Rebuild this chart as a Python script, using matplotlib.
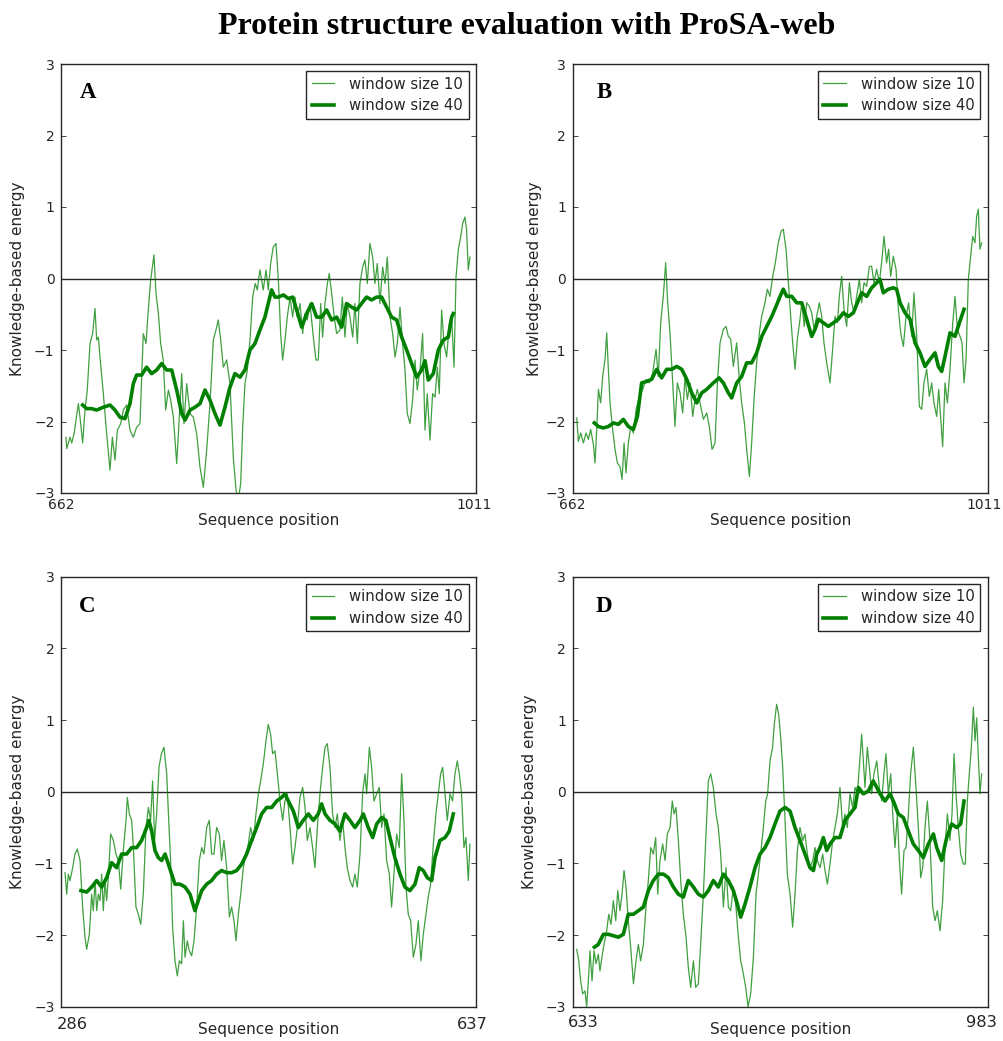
import matplotlib
matplotlib.use("Agg")
import matplotlib.pyplot as plt

# ---------------- data ----------------
title = "Protein structure evaluation with ProSA-web"
panel_letters = ["A", "B", "C", "D"]
seq_ranges = [(662, 1011), (662, 1011), (286, 637), (633, 983)]
legend_labels = ["window size 10", "window size 40"]
ytick_values = [-3, -2, -1, 0, 1, 2, 3]

a_w10_pos = [666.2, 666.8, 669.6, 671.0, 673.0, 674.6, 676.6, 678.0, 680.2, 682.2, 684.1, 686.4, 688.6, 690.6, 692.0, 693.4,
             694.8, 697.6, 700.4, 703.2, 705.2, 707.4, 709.4, 712.2, 714.4, 717.2, 720.0, 722.8, 725.6, 728.4, 731.2, 733.5,
             735.4, 737.4, 740.2, 741.9, 743.9, 745.8, 748.0, 750.0, 752.3, 754.2, 756.5, 759.3, 761.5, 763.5, 765.4, 767.7,
             770.5, 773.3, 776.1, 778.9, 781.7, 784.5, 787.3, 790.1, 792.3, 794.3, 796.3, 798.5, 801.3, 804.1, 806.9, 809.2,
             811.1, 813.1, 814.8, 816.7, 818.7, 820.9, 823.2, 825.4, 827.1, 829.3, 832.1, 834.4, 836.3, 838.3, 840.5, 842.8,
             844.8, 846.7, 848.4, 850.4, 852.3, 854.6, 856.8, 858.8, 860.7, 863.0, 865.2, 867.2, 869.1, 871.4, 874.2, 876.4,
             878.4, 880.4, 882.0, 884.0, 886.0, 887.6, 889.6, 891.8, 893.8, 896.6, 898.6, 900.8, 902.8, 905.0, 907.3, 909.2,
             911.2, 913.4, 915.7, 917.6, 919.6, 921.8, 924.1, 926.0, 928.0, 930.2, 932.5, 934.5, 936.4, 938.7, 940.9, 942.9,
             944.8, 947.1, 949.3, 951.3, 953.2, 955.5, 957.7, 959.7, 961.6, 963.9, 966.1, 968.1, 970.0, 972.3, 974.5, 976.5,
             978.5, 980.1, 982.1, 984.1, 986.3, 988.6, 990.5, 992.5, 994.2, 996.1, 998.1, 999.8, 1001.7, 1003.1, 1004.5, 1005.9]
a_w10_val = [-2.22, -2.38, -2.22, -2.30, -2.17, -1.98, -1.75, -1.94, -2.30, -1.84, -1.56, -0.91, -0.77, -0.42, -0.86, -0.82,
             -1.10, -1.61, -2.17, -2.68, -2.22, -2.54, -2.12, -2.03, -1.84, -1.77, -2.12, -2.22, -2.08, -2.03, -0.77, -0.91,
             -0.44, -0.02, 0.33, -0.21, -0.49, -0.91, -1.14, -1.84, -1.56, -1.70, -1.94, -2.59, -1.94, -1.33, -2.03, -1.47,
             -1.89, -1.94, -2.17, -2.64, -2.92, -2.40, -1.75, -0.86, -0.72, -0.58, -0.86, -1.24, -1.14, -1.47, -2.50, -2.96,
             -3.10, -2.87, -2.08, -1.47, -1.28, -0.86, -0.26, -0.07, -0.16, 0.12, -0.16, 0.12, -0.16, 0.21, 0.44, 0.49,
             -0.02, -0.77, -1.14, -0.86, -0.54, -0.26, -0.54, -0.26, -0.54, -0.35, -0.77, -0.49, -0.58, -0.35, -0.82, -1.14,
             -1.14, -0.35, -0.82, -0.35, -0.07, 0.07, -0.21, -0.54, -0.77, -0.72, -0.26, -0.82, -0.35, -0.54, -0.82, -0.35,
             -0.91, -0.07, 0.16, 0.26, -0.07, 0.49, 0.30, -0.07, 0.21, -0.35, 0.16, -0.07, 0.30, -0.54, -0.77, -1.10,
             -0.91, -0.40, -0.91, -1.28, -1.89, -2.03, -1.70, -1.14, -1.56, -1.28, -0.77, -2.12, -1.61, -2.26, -1.61, -1.66,
             -1.24, -1.61, -0.44, -0.91, -1.10, -0.63, -0.54, -1.24, 0.02, 0.40, 0.58, 0.77, 0.86, 0.68, 0.12, 0.30]

a_w40_pos = [680.2, 683.6, 687.8, 692.0, 697.6, 703.2, 707.4, 711.6, 715.8, 720.0, 722.8, 725.6, 729.8, 734.0, 738.2, 742.4,
             746.6, 750.9, 755.1, 759.3, 763.5, 766.3, 770.5, 774.7, 778.9, 783.1, 787.3, 791.5, 795.7, 799.9, 804.1, 808.3,
             812.5, 816.7, 820.9, 825.1, 829.3, 833.5, 836.3, 839.1, 841.9, 844.8, 849.0, 853.2, 856.8, 860.2, 864.4, 868.6,
             872.8, 877.0, 881.2, 885.4, 889.6, 893.8, 898.0, 902.2, 906.4, 910.6, 914.8, 919.0, 923.2, 927.4, 931.6, 935.8,
             940.0, 944.3, 948.5, 952.7, 956.9, 961.1, 965.3, 968.1, 970.9, 975.1, 979.3, 983.5, 987.7, 990.5, 991.9]
a_w40_val = [-1.77, -1.82, -1.82, -1.84, -1.80, -1.77, -1.84, -1.94, -1.96, -1.75, -1.47, -1.35, -1.35, -1.24, -1.33, -1.28,
             -1.19, -1.28, -1.28, -1.56, -1.89, -1.98, -1.84, -1.80, -1.75, -1.56, -1.70, -1.89, -2.05, -1.80, -1.52, -1.33,
             -1.38, -1.28, -1.00, -0.91, -0.72, -0.54, -0.35, -0.16, -0.26, -0.26, -0.23, -0.28, -0.26, -0.44, -0.68, -0.49,
             -0.35, -0.54, -0.54, -0.44, -0.58, -0.54, -0.68, -0.35, -0.40, -0.44, -0.35, -0.26, -0.30, -0.26, -0.26, -0.40,
             -0.54, -0.58, -0.82, -1.00, -1.19, -1.38, -1.28, -1.15, -1.42, -1.33, -1.00, -0.86, -0.82, -0.54, -0.49]

b_w10_pos = [665.4, 666.8, 668.7, 671.0, 673.2, 675.2, 677.1, 679.4, 680.8, 682.2, 683.6, 685.5, 687.2, 689.2, 690.6, 692.0,
             693.4, 695.6, 697.6, 699.6, 701.8, 703.5, 705.2, 706.8, 708.8, 710.8, 713.0, 715.3, 718.1, 720.9, 723.7, 726.5,
             729.3, 732.1, 734.0, 736.0, 738.2, 740.2, 741.9, 743.8, 746.1, 748.0, 750.0, 752.3, 754.5, 756.5, 758.4, 760.7,
             762.9, 764.9, 766.8, 769.1, 771.9, 774.7, 776.9, 779.2, 781.7, 783.7, 785.9, 788.7, 790.9, 792.9, 794.9, 797.1,
             799.9, 802.1, 804.1, 806.4, 808.3, 810.6, 812.5, 814.5, 816.7, 819.0, 820.9, 823.7, 825.7, 827.9, 830.2, 832.4,
             834.9, 837.2, 839.1, 841.4, 843.4, 845.3, 847.0, 849.0, 850.9, 852.8, 854.7, 856.7, 858.8, 861.0, 863.0, 865.0,
             867.2, 869.4, 871.4, 873.3, 875.6, 878.4, 880.6, 882.6, 884.6, 886.2, 888.2, 890.2, 892.4, 894.7, 896.6, 898.6,
             900.8, 903.1, 905.0, 907.0, 909.2, 911.5, 913.4, 915.4, 917.6, 919.9, 922.1, 923.8, 926.0, 927.7, 929.4, 931.6,
             933.9, 935.9, 937.8, 940.1, 942.3, 944.5, 947.1, 949.0, 951.3, 953.5, 955.5, 957.4, 959.7, 961.9, 963.9, 965.8,
             968.1, 969.8, 971.5, 973.1, 975.1, 977.1, 979.3, 981.6, 983.5, 985.5, 987.7, 989.4, 991.1, 992.8, 994.7, 996.7,
             998.4, 1000.3, 1001.7, 1003.1, 1004.5, 1005.9]
b_w10_val = [-1.95, -2.28, -2.16, -2.30, -2.16, -2.25, -2.11, -2.32, -2.58, -2.11, -1.55, -1.74, -1.37, -1.13, -0.76, -1.27,
             -1.74, -2.11, -2.39, -2.58, -2.63, -2.81, -2.30, -2.72, -2.30, -2.07, -2.16, -1.83, -1.65, -1.55, -1.41, -1.46,
             -1.32, -0.99, -1.37, -0.62, -0.25, 0.22, -0.34, -0.76, -1.46, -2.07, -1.46, -1.60, -1.88, -1.37, -1.69, -1.46,
             -1.93, -1.69, -1.55, -1.74, -1.97, -1.88, -2.07, -2.39, -2.30, -1.46, -0.90, -0.71, -0.67, -0.81, -0.85, -1.23,
             -0.90, -1.41, -1.74, -2.02, -2.39, -2.77, -2.30, -1.69, -1.18, -0.76, -0.53, -0.34, -0.15, -0.25, 0.03, 0.22,
             0.50, 0.66, 0.69, 0.41, -0.06, -0.53, -0.90, -1.27, -0.85, -0.62, -0.34, -0.67, -0.34, -0.39, -0.48, -0.71,
             -0.53, -0.34, -0.53, -0.90, -1.18, -1.46, -0.99, -0.53, -0.62, -0.25, 0.03, -0.43, -0.67, -0.06, -0.34, -0.48,
             -0.25, -0.01, -0.34, -0.06, -0.11, 0.17, 0.17, -0.06, 0.13, -0.06, 0.27, 0.59, 0.22, 0.41, 0.03, 0.31,
             0.13, -0.43, -0.76, -0.95, -0.53, -0.34, -0.81, -0.20, -0.81, -1.79, -1.83, -1.46, -1.27, -1.65, -1.46, -1.74,
             -1.93, -1.55, -1.97, -2.35, -1.46, -1.74, -1.27, -0.62, -0.25, -0.71, -0.81, -0.90, -1.46, -1.13, -0.01, 0.31,
             0.59, 0.50, 0.87, 0.97, 0.41, 0.50]

b_w40_pos = [680.2, 683.6, 687.8, 692.0, 696.2, 700.4, 704.6, 708.8, 713.0, 716.4, 720.0, 724.2, 728.4, 732.6, 736.8, 741.0,
             745.2, 749.5, 753.7, 757.9, 762.1, 766.3, 770.5, 774.7, 780.3, 785.1, 788.7, 792.9, 795.7, 799.9, 804.1, 808.3,
             812.5, 816.7, 821.0, 825.2, 829.4, 833.0, 836.4, 839.1, 842.0, 846.2, 850.4, 854.6, 858.8, 863.0, 865.8, 868.6,
             872.8, 877.0, 881.2, 885.4, 889.6, 893.8, 898.0, 901.4, 905.0, 909.2, 913.4, 917.6, 920.4, 923.2, 927.4, 931.6,
             934.4, 937.3, 941.5, 945.7, 949.9, 954.1, 958.3, 962.5, 966.7, 969.5, 972.3, 975.1, 979.3, 983.5, 987.2, 991.1]
b_w40_val = [-2.02, -2.07, -2.09, -2.07, -2.02, -2.04, -1.97, -2.07, -2.11, -1.93, -1.46, -1.44, -1.41, -1.27, -1.39, -1.27,
             -1.27, -1.23, -1.27, -1.41, -1.60, -1.74, -1.60, -1.55, -1.46, -1.39, -1.46, -1.60, -1.67, -1.46, -1.37, -1.18,
             -1.18, -1.04, -0.81, -0.67, -0.53, -0.39, -0.25, -0.15, -0.25, -0.25, -0.34, -0.34, -0.57, -0.81, -0.71, -0.57,
             -0.62, -0.67, -0.62, -0.57, -0.48, -0.53, -0.48, -0.34, -0.20, -0.25, -0.13, -0.06, -0.01, -0.20, -0.15, -0.13,
             -0.15, -0.34, -0.48, -0.57, -0.90, -1.04, -1.23, -1.13, -1.04, -1.23, -1.30, -1.09, -0.76, -0.81, -0.62, -0.43]

c_w10_pos = [289.4, 290.8, 292.2, 293.6, 295.9, 297.8, 299.8, 302.1, 304.3, 306.3, 307.7, 310.0, 311.9, 313.3, 314.8, 316.2,
             317.6, 319.0, 320.4, 321.8, 323.2, 324.6, 326.0, 328.0, 330.3, 332.5, 334.5, 336.5, 338.7, 341.0, 342.1, 343.8,
             345.8, 347.2, 349.4, 351.4, 353.4, 355.6, 357.9, 359.9, 361.8, 363.5, 365.2, 366.9, 368.9, 370.9, 373.1, 375.4,
             377.1, 378.7, 380.4, 382.4, 384.4, 386.1, 388.0, 389.5, 390.9, 392.8, 394.5, 396.5, 398.5, 400.7, 403.0, 405.0,
             406.9, 409.2, 411.4, 413.4, 415.4, 417.6, 419.9, 421.8, 423.8, 426.1, 428.4, 430.3, 432.3, 434.0, 436.0, 438.0,
             440.2, 442.5, 444.4, 446.4, 448.7, 450.9, 452.9, 454.9, 457.1, 459.4, 461.3, 463.3, 465.0, 467.0, 469.0, 471.2,
             473.5, 475.4, 477.4, 479.7, 481.9, 483.9, 485.9, 488.1, 490.4, 492.4, 494.3, 496.6, 498.8, 500.8, 502.8, 505.0,
             507.3, 509.3, 511.2, 513.5, 515.7, 517.7, 519.7, 521.9, 524.2, 526.2, 528.1, 530.4, 532.7, 534.6, 536.6, 538.9,
             541.1, 543.1, 544.5, 546.8, 548.7, 550.7, 553.0, 555.2, 557.2, 559.2, 561.4, 563.7, 565.6, 567.6, 569.9, 572.1,
             574.1, 576.1, 577.8, 579.7, 581.7, 584.0, 586.2, 588.2, 590.4, 592.4, 594.7, 596.6, 598.6, 600.9, 603.1, 605.1,
             607.1, 608.8, 610.8, 612.7, 615.0, 617.2, 619.2, 621.2, 622.9, 624.8, 626.8, 628.5, 630.5, 631.9]
c_w10_val = [-1.13, -1.43, -1.15, -1.24, -1.06, -0.87, -0.80, -0.96, -1.61, -2.03, -2.20, -1.99, -1.43, -1.66, -1.24, -1.66,
             -1.43, -1.52, -1.15, -1.66, -1.24, -1.52, -1.20, -0.59, -0.68, -0.87, -0.96, -1.36, -0.82, -0.40, -0.08, -0.31,
             -0.40, -0.78, -1.61, -1.71, -1.85, -1.43, -0.50, -0.22, -0.40, 0.15, -0.68, -0.31, 0.34, 0.53, 0.62, 0.25,
             -0.40, -0.96, -1.89, -2.36, -2.57, -2.36, -2.40, -1.80, -2.31, -2.08, -2.22, -2.29, -2.08, -1.61, -0.96, -0.78,
             -0.87, -0.50, -0.40, -0.87, -0.87, -0.50, -0.59, -0.96, -0.68, -1.06, -1.75, -1.61, -1.80, -2.08, -1.71, -1.43,
             -1.06, -0.87, -0.73, -0.50, -0.68, -0.31, -0.03, 0.15, 0.39, 0.71, 0.94, 0.80, 0.53, 0.57, 0.25, -0.13,
             -0.40, -0.13, -0.03, -0.50, -1.01, -0.78, -0.50, -0.08, 0.06, -0.22, -0.68, -0.50, -0.78, -1.06, -0.50, -0.03,
             0.34, 0.62, 0.67, 0.34, -0.31, -0.50, -0.31, -0.68, -0.40, -0.78, -1.06, -1.24, -1.33, -1.15, -1.33, -0.87,
             -0.03, 0.25, -0.03, 0.62, 0.34, -0.13, -0.03, 0.06, -0.50, -0.31, -0.96, -1.15, -1.61, -1.15, -0.59, -0.78,
             0.25, -0.40, -1.33, -1.71, -1.80, -2.31, -2.13, -1.80, -2.36, -1.99, -1.71, -1.47, -1.29, -0.73, -0.31, -0.03,
             0.25, 0.34, -0.03, -0.40, -0.03, -0.13, 0.25, 0.43, 0.25, -0.03, -0.78, -0.64, -1.24, -0.73]

c_w40_pos = [302.9, 307.7, 311.9, 316.2, 320.4, 324.6, 328.8, 333.1, 337.3, 341.5, 345.8, 350.0, 354.2, 358.4, 360.4, 362.7,
             365.5, 368.3, 371.1, 374.0, 376.8, 379.6, 382.4, 386.6, 390.9, 395.1, 399.3, 402.1, 405.0, 409.2, 413.4, 417.6,
             421.9, 426.1, 430.3, 434.6, 438.8, 443.0, 447.2, 451.5, 455.7, 459.9, 464.2, 468.4, 472.6, 475.4, 478.3, 482.5,
             486.7, 490.9, 495.2, 499.4, 503.6, 506.4, 509.3, 513.5, 517.7, 521.9, 526.2, 530.4, 534.6, 538.9, 541.7, 545.9,
             549.6, 553.0, 557.2, 560.8, 564.2, 568.4, 572.7, 576.9, 581.1, 585.4, 589.0, 592.4, 595.8, 599.5, 602.3, 606.5,
             610.8, 614.4, 617.8]
c_w40_val = [-1.38, -1.40, -1.33, -1.24, -1.33, -1.20, -0.99, -1.06, -0.87, -0.87, -0.78, -0.78, -0.68, -0.50, -0.40, -0.55,
             -0.82, -0.92, -0.96, -0.87, -1.01, -1.15, -1.29, -1.29, -1.33, -1.43, -1.66, -1.52, -1.38, -1.29, -1.24, -1.15,
             -1.10, -1.13, -1.13, -1.10, -1.01, -0.87, -0.68, -0.50, -0.31, -0.22, -0.22, -0.13, -0.08, -0.03, -0.13, -0.27,
             -0.50, -0.40, -0.31, -0.40, -0.31, -0.17, -0.31, -0.40, -0.45, -0.55, -0.31, -0.40, -0.50, -0.40, -0.31, -0.50,
             -0.64, -0.45, -0.36, -0.40, -0.64, -0.92, -1.15, -1.33, -1.38, -1.29, -1.06, -1.10, -1.20, -1.24, -0.92, -0.68,
             -0.64, -0.55, -0.31]

d_w10_pos = [636.4, 638.1, 639.7, 641.4, 643.4, 644.8, 646.2, 647.6, 649.3, 651.0, 652.7, 654.6, 656.0, 658.0, 660.0, 661.7,
             663.4, 665.3, 667.3, 669.3, 671.0, 672.9, 674.6, 676.3, 678.0, 679.9, 681.9, 684.2, 686.4, 688.4, 690.3, 692.6,
             694.8, 696.8, 698.8, 701.0, 703.0, 704.7, 706.6, 708.9, 710.9, 712.8, 715.1, 717.0, 718.5, 720.1, 722.1, 724.1,
             726.3, 728.6, 730.5, 732.5, 734.8, 736.7, 739.0, 740.9, 743.2, 745.4, 747.4, 749.4, 751.6, 753.9, 755.8, 757.8,
             760.1, 762.3, 764.3, 766.2, 768.5, 770.7, 772.7, 774.7, 776.9, 778.9, 780.9, 783.1, 785.4, 787.6, 789.6, 791.5,
             793.8, 795.8, 797.4, 799.4, 801.6, 803.0, 805.0, 806.7, 808.4, 810.1, 812.1, 814.0, 816.3, 818.5, 820.5, 822.5,
             824.7, 827.0, 828.9, 830.9, 833.1, 835.4, 837.4, 839.3, 841.6, 843.8, 845.8, 847.8, 850.0, 852.3, 854.2, 856.2,
             858.4, 860.7, 862.7, 864.6, 866.9, 869.1, 871.1, 873.1, 874.7, 876.7, 878.1, 879.5, 881.5, 883.2, 885.1, 887.1,
             889.4, 891.6, 893.6, 895.5, 897.2, 899.2, 901.2, 902.9, 904.8, 906.8, 908.5, 910.4, 912.4, 914.1, 916.1, 918.0,
             920.3, 922.5, 924.5, 926.5, 928.2, 930.1, 932.1, 934.3, 936.6, 938.6, 940.5, 942.8, 945.0, 947.0, 949.0, 951.2,
             952.9, 954.6, 956.3, 958.2, 960.2, 962.4, 964.1, 965.8, 967.5, 969.2, 970.9, 972.3, 973.7, 975.1, 976.5, 977.9]
d_w10_val = [-2.20, -2.36, -2.64, -2.82, -2.78, -3.00, -2.64, -2.22, -2.64, -2.22, -2.40, -2.27, -2.50, -2.27, -2.08, -1.94,
             -1.71, -1.85, -1.52, -1.80, -1.38, -1.66, -1.43, -1.10, -1.33, -1.80, -2.17, -2.68, -2.36, -2.13, -2.36, -2.13,
             -1.61, -1.24, -0.78, -0.87, -0.64, -1.43, -0.96, -0.73, -0.96, -0.59, -0.50, -0.13, -0.31, -0.22, -0.68, -1.24,
             -1.71, -2.03, -2.45, -2.73, -2.36, -2.73, -2.68, -2.13, -1.43, -0.59, 0.15, 0.25, 0.06, -0.31, -0.50, -0.87,
             -1.61, -1.06, -1.61, -1.66, -1.33, -1.61, -2.03, -2.36, -2.54, -2.73, -3.00, -2.82, -2.31, -1.43, -1.15, -0.87,
             -0.50, -0.13, -0.03, 0.43, 0.62, 0.94, 1.22, 1.08, 0.76, 0.34, -0.40, -1.15, -1.43, -1.89, -1.43, -0.82,
             -0.50, -0.68, -0.59, -0.87, -1.06, -0.96, -0.78, -0.96, -1.06, -0.87, -1.10, -1.29, -1.01, -0.68, -0.50, -0.31,
             0.06, -0.50, -0.31, -0.50, -0.03, -0.22, 0.06, -0.03, 0.34, 0.80, 0.43, 0.06, 0.62, 0.34, -0.03, 0.25,
             0.43, 0.06, -0.13, 0.25, 0.53, -0.03, 0.25, -0.31, -0.78, -0.31, -0.96, -1.43, -0.82, -0.78, -0.31, 0.25,
             0.62, 0.06, -0.50, -1.20, -1.06, -0.50, -0.13, -0.68, -1.61, -1.80, -1.66, -1.94, -1.52, -0.78, -0.31, -0.68,
             -0.31, 0.53, -0.03, -0.50, -0.87, -1.01, -1.01, -0.13, 0.25, 0.62, 1.18, 0.71, 1.03, 0.48, -0.03, 0.25]

d_w40_pos = [651.3, 654.6, 658.9, 663.1, 667.3, 671.5, 675.7, 679.9, 684.2, 688.4, 692.6, 696.8, 701.0, 705.2, 709.5, 713.7,
             717.9, 722.1, 726.3, 730.5, 734.8, 739.0, 743.2, 747.4, 751.6, 755.8, 760.1, 764.3, 768.5, 771.9, 774.7, 778.3,
             782.5, 786.8, 791.0, 795.2, 799.4, 803.6, 807.8, 812.1, 816.3, 820.5, 824.7, 828.9, 833.1, 836.0, 838.8, 841.6,
             844.4, 847.2, 850.0, 854.2, 858.4, 862.7, 866.9, 871.1, 873.9, 878.1, 882.3, 886.5, 889.4, 892.2, 896.4, 900.6,
             903.4, 907.6, 911.8, 916.1, 920.3, 924.5, 928.7, 932.9, 937.2, 940.0, 944.2, 948.4, 952.6, 956.8, 960.2, 963.0]
d_w40_val = [-2.17, -2.13, -1.99, -1.99, -2.01, -2.03, -1.99, -1.71, -1.71, -1.66, -1.61, -1.38, -1.24, -1.15, -1.15, -1.20,
             -1.33, -1.43, -1.47, -1.24, -1.33, -1.43, -1.47, -1.38, -1.24, -1.33, -1.15, -1.24, -1.38, -1.57, -1.75, -1.57,
             -1.33, -1.06, -0.87, -0.78, -0.64, -0.45, -0.27, -0.22, -0.27, -0.50, -0.68, -0.87, -1.06, -1.10, -0.87, -0.78,
             -0.64, -0.82, -0.73, -0.64, -0.64, -0.40, -0.31, -0.22, 0.06, -0.03, 0.01, 0.15, 0.06, -0.03, -0.13, -0.03,
             -0.13, -0.31, -0.36, -0.55, -0.73, -0.82, -0.92, -0.73, -0.59, -0.78, -0.96, -0.64, -0.45, -0.50, -0.45, -0.13]

# ---------------- layout / styling ----------------
W, H = 1004, 1041
fig = plt.figure(figsize=(W / 100, H / 100), dpi=100)
fig.patch.set_facecolor("white")

# axes boxes in pixels: left, top, right, bottom
boxes = [(61, 64, 476, 493), (572.7, 64, 987.7, 493),
         (61, 576.7, 476, 1006.7), (572.7, 576.7, 987.7, 1006.7)]
series = [(a_w10_pos, a_w10_val, a_w40_pos, a_w40_val),
          (b_w10_pos, b_w10_val, b_w40_pos, b_w40_val),
          (c_w10_pos, c_w10_val, c_w40_pos, c_w40_val),
          (d_w10_pos, d_w10_val, d_w40_pos, d_w40_val)]
letter_off = [(19, 34), (24, 34), (18, 35), (23, 35.6)]       # px from top-left corner
ylabel_x = [-0.087, -0.074, -0.086, -0.085]
xlabel_y = [-0.046, -0.046, -0.036, -0.036]
xtick_fs = [10, 10, 11.7, 11.7]
xtick_dx = [(0, -2), (0, -3.7), (11.7, -4), (11, -6.7)]       # px offsets of the two labels
xtick_dy = [-5, -5, -10, -8]

GREEN = "#008000"
INK = "#262626"

for i in range(4):
    l, t, r, b = boxes[i]
    ax = fig.add_axes([l / W, 1 - b / H, (r - l) / W, (b - t) / H])
    p10, v10, p40, v40 = series[i]
    s, e = seq_ranges[i]
    ax.plot(p10, v10, color=GREEN, lw=0.9, alpha=0.75, label=legend_labels[0])
    ax.plot(p40, v40, color=GREEN, lw=2.6, label=legend_labels[1])
    ax.axhline(0, color=INK, lw=1.0, zorder=1)
    ax.set_xlim(s, e)
    ax.set_ylim(-3, 3)
    ax.set_yticks(ytick_values)
    ax.set_xticks([s, e])
    ax.tick_params(axis="both", direction="in", length=3.5, width=0.6, color=INK,
                   labelcolor=INK, labelsize=10, right=True, top=True, pad=4.7)
    ax.tick_params(axis="x", labelbottom=False)
    for sp in ax.spines.values():
        sp.set_color(INK)
        sp.set_linewidth(1.0)
    # x tick labels at the ends
    for k, val in enumerate((s, e)):
        ax.annotate(str(val), xy=(val, 0), xycoords=("data", "axes fraction"),
                    xytext=(xtick_dx[i][k], xtick_dy[i]), textcoords="offset pixels",
                    ha="center", va="top", fontsize=xtick_fs[i], color=INK, annotation_clip=False)
    ax.set_ylabel("Knowledge-based energy", fontsize=11, color=INK)
    ax.yaxis.set_label_coords(ylabel_x[i], 0.5)
    ax.set_xlabel("Sequence position", fontsize=11, color=INK)
    ax.xaxis.set_label_coords(0.5, xlabel_y[i])
    leg = ax.legend(loc="upper right", fontsize=10.7, frameon=True, fancybox=False,
                    edgecolor=INK, framealpha=1, borderaxespad=0.5, borderpad=0.35,
                    labelspacing=0.45, handlelength=1.5, handletextpad=1.05)
    leg.get_frame().set_linewidth(1.0)
    for txt in leg.get_texts():
        txt.set_color(INK)
    dx, dy = letter_off[i]
    ax.text(dx / (r - l), 1 - dy / (b - t), panel_letters[i], transform=ax.transAxes,
            fontsize=16.5, fontweight="bold", family="Liberation Serif", va="baseline", ha="left")

fig.text(527 / W, 1 - 27 / H, title, ha="center", va="center", fontsize=23,
         fontweight="bold", family="Liberation Serif")

fig.savefig("out.png", dpi=100)
